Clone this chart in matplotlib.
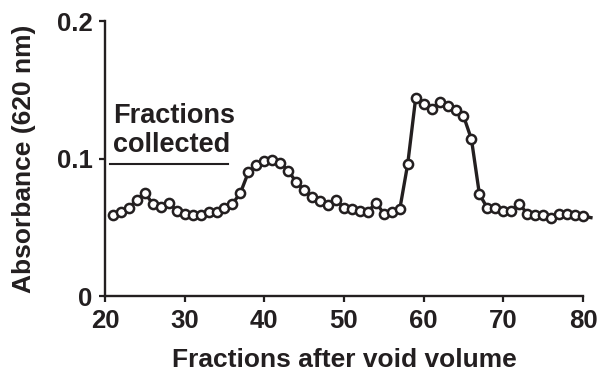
import matplotlib
matplotlib.use("Agg")
import matplotlib.pyplot as plt

plt.rcParams['font.family'] = ['Liberation Sans', 'DejaVu Sans']
plt.rcParams['font.weight'] = 'bold'

fractions = list(range(21, 82))
absorbance = [0.059, 0.061, 0.064, 0.070, 0.075, 0.067, 0.065, 0.068, 0.062, 0.060,
              0.059, 0.059, 0.061, 0.061, 0.064, 0.067, 0.075, 0.090, 0.095, 0.098,
              0.099, 0.097, 0.091, 0.083, 0.077, 0.072, 0.069, 0.066, 0.070, 0.064,
              0.063, 0.062, 0.061, 0.068, 0.060, 0.061, 0.063, 0.096, 0.144, 0.140,
              0.136, 0.141, 0.138, 0.135, 0.131, 0.114, 0.074, 0.064, 0.064, 0.062,
              0.062, 0.067, 0.060, 0.059, 0.059, 0.057, 0.060, 0.060, 0.059, 0.058,
              0.057]
xticks = [20, 30, 40, 50, 60, 70, 80]
yticks = [0, 0.1, 0.2]
ytick_labels = ["0", "0.1", "0.2"]

fig = plt.figure(figsize=(6.02, 3.72), dpi=100)
ax = fig.add_axes([0.1744, 0.2043, 0.794, 0.7392])

ax.plot(fractions, absorbance, color="#231f20", lw=2.4, clip_on=False, zorder=2)
ax.plot(fractions[:-1], absorbance[:-1], ls="none", marker="o", ms=6.6,
        mfc="white", mec="#231f20", mew=1.8, clip_on=False, zorder=3)

ax.set_xlim(20, 80)
ax.set_ylim(0, 0.2)
ax.set_xticks(xticks)
ax.set_yticks(yticks)
ax.set_yticklabels(ytick_labels)
ax.tick_params(direction="out", length=4, width=1.6, labelsize=18.5, colors="#231f20")
ax.tick_params(axis="x", pad=5)
ax.tick_params(axis="y", pad=5)
for s in ["top", "right"]:
    ax.spines[s].set_visible(False)
for s in ["left", "bottom"]:
    ax.spines[s].set_linewidth(1.7)
    ax.spines[s].set_color("#231f20")

ax.set_xlabel("Fractions after void volume", fontsize=19, fontweight="bold", color="#231f20", labelpad=11)
ax.set_ylabel("Absorbance (620 nm)", fontsize=19, fontweight="bold", color="#231f20", labelpad=15)

ax.text(21, 0.1045, "Fractions\ncollected", fontsize=19.5, fontweight="bold", color="#231f20",
        ha="left", va="baseline", linespacing=1.15)
ax.plot([20.6, 35.4], [0.096, 0.096], color="#231f20", lw=1.5)

fig.savefig("out.png", dpi=100)
